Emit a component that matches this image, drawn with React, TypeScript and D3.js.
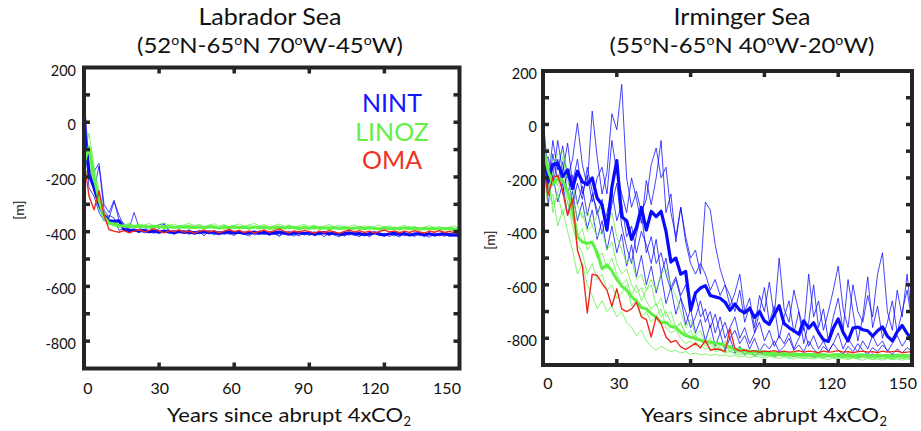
import React from "react";
import * as d3 from "d3";

// ---------- shared ----------
const YEAR_STEP = 2; // values below are given every 2 years, years 0..150
const X_TICKS = [0, 30, 60, 90, 120, 150];
const Y_LABELS = [200, 0, -200, -400, -600, -800];
const Y_TICKS = [100, 0, -100, -200, -300, -400, -500, -600, -700, -800];
const X_INNER_TICKS = [30, 60, 90, 120];
const LEGEND = ["NINT", "LINOZ", "OMA"];

const C_NINT = "#0a0aff";
const C_LINOZ = "#5ff044";
const C_OMA = "#f0281e";
const LEGEND_COLORS = ["#1414ff", "#66ee48", "#ee3322"];

// ---------- Labrador Sea ----------
const labNintMean = [
  5, -190, -240, -300, -340, -360, -362, -360, -392, -396,
  -394, -398, -395, -400, -398, -402, -397, -401, -404, -399,
  -403, -400, -405, -402, -399, -404, -401, -406, -403, -400,
  -405, -402, -407, -404, -401, -406, -403, -408, -404, -401,
  -406, -409, -405, -402, -407, -404, -409, -406, -403, -408,
  -405, -410, -407, -404, -409, -406, -411, -407, -404, -409,
  -412, -408, -405, -410, -407, -412, -409, -406, -411, -408,
  -412, -409, -406, -411, -413, -410,
];
const labNint1 = [
  100, -150, -250, -160, -320, -350, -290, -340, -380, -390,
  -330, -385, -395, -380, -400, -390, -372, -395, -410, -398,
  -405, -392, -410, -400, -415, -396, -405, -412, -398, -406,
  -414, -400, -409, -416, -402, -410, -398, -414, -405, -418,
  -402, -410, -416, -404, -412, -400, -415, -407, -418, -404,
  -412, -419, -405, -413, -402, -416, -408, -419, -405, -414,
  -406, -418, -409, -402, -415, -408, -418, -405, -413, -420,
  -407, -415, -409, -418, -411, -420,
];
const labNint2 = [
  -50, -210, -180, -150, -300, -330, -285, -360, -370, -395,
  -400, -392, -405, -398, -386, -375, -370, -400, -395, -405,
  -398, -410, -402, -396, -408, -401, -412, -404, -398, -410,
  -403, -396, -408, -400, -412, -405, -410, -398, -406, -413,
  -404, -398, -409, -415, -403, -410, -400, -412, -405, -415,
  -402, -409, -416, -404, -411, -418, -406, -412, -403, -410,
  -417, -405, -412, -419, -406, -413, -404, -411, -418, -406,
  -414, -408, -416, -405, -413, -418,
];
const labNint3 = [
  -20, -240, -270, -330, -360, -340, -350, -395, -388, -400,
  -396, -404, -392, -399, -406, -398, -403, -396, -407, -401,
  -395, -406, -399, -408, -402, -396, -405, -399, -410, -404,
  -398, -407, -401, -410, -404, -398, -408, -402, -411, -405,
  -399, -408, -402, -411, -405, -414, -406, -400, -409, -403,
  -412, -406, -415, -408, -402, -411, -405, -414, -408, -402,
  -412, -406, -415, -409, -403, -412, -406, -415, -409, -403,
  -413, -407, -416, -410, -404, -414,
];
const labLinozMean = [
  -150, -90, -200, -285, -345, -368, -372, -377, -380, -378,
  -382, -379, -381, -383, -380, -384, -381, -383, -385, -382,
  -384, -381, -385, -383, -386, -382, -384, -387, -383, -385,
  -382, -386, -384, -387, -383, -386, -384, -388, -385, -383,
  -387, -384, -386, -389, -385, -387, -384, -388, -386, -389,
  -385, -388, -386, -389, -387, -385, -389, -386, -388, -390,
  -386, -389, -387, -390, -386, -389, -387, -391, -388, -390,
  -387, -391, -388, -390, -392, -389,
];
const labLinoz1 = [
  -120, -40, -160, -250, -330, -360, -370, -365, -375, -370,
  -378, -372, -376, -370, -379, -374, -368, -377, -372, -380,
  -375, -370, -378, -373, -381, -376, -371, -379, -374, -382,
  -377, -372, -380, -375, -370, -379, -374, -382, -377, -372,
  -380, -375, -383, -378, -373, -381, -376, -384, -379, -374,
  -382, -377, -385, -380, -375, -383, -378, -386, -381, -376,
  -384, -379, -387, -382, -377, -385, -380, -388, -383, -378,
  -386, -381, -389, -384, -379, -387,
];
const labLinoz2 = [
  -180, -110, -250, -300, -350, -372, -380, -385, -378, -386,
  -381, -388, -383, -379, -387, -382, -389, -384, -380, -388,
  -383, -390, -385, -381, -389, -384, -378, -386, -391, -385,
  -380, -388, -383, -390, -386, -381, -389, -384, -391, -386,
  -382, -390, -385, -380, -388, -392, -386, -381, -389, -384,
  -391, -386, -382, -390, -385, -392, -387, -383, -391, -386,
  -393, -388, -384, -391, -386, -393, -389, -385, -392, -387,
  -394, -389, -385, -392, -388, -394,
];
const labLinoz3 = [
  -200, -160, -230, -320, -360, -375, -366, -374, -380, -372,
  -379, -385, -376, -382, -388, -378, -384, -375, -381, -387,
  -377, -383, -389, -379, -385, -376, -382, -388, -378, -384,
  -390, -380, -386, -377, -383, -389, -379, -385, -391, -381,
  -387, -378, -384, -390, -380, -386, -392, -382, -388, -379,
  -385, -391, -381, -387, -393, -383, -389, -380, -386, -392,
  -382, -388, -394, -384, -390, -381, -387, -393, -383, -389,
  -395, -385, -391, -382, -388, -394,
];
const labOma = [
  -140, -270, -320, -250, -340, -392, -398, -402, -396, -404,
  -398, -393, -401, -395, -390, -398, -404, -396, -400, -393,
  -402, -397, -405, -399, -394, -401, -396, -404, -398, -392,
  -400, -395, -403, -397, -405, -399, -394, -402, -396, -390,
  -399, -404, -397, -402, -395, -400, -405, -398, -403, -396,
  -401, -406, -399, -394, -401, -396, -403, -398, -405, -399,
  -394, -401, -397, -404, -398, -403, -396, -401, -405, -398,
  -402, -396, -403, -399, -404, -400,
];

// ---------- Irminger Sea ----------
const irmNintMean = [
  -60, -215, -150, -145, -195, -170, -240, -175, -215, -225,
  -200, -275, -300, -395, -235, -135, -345, -360, -430, -385,
  -310, -395, -325, -345, -325, -400, -515, -500, -560, -550,
  -695, -630, -612, -603, -640, -645, -650, -665, -695, -672,
  -695, -705, -688, -722, -700, -735, -748, -712, -678, -745,
  -760, -772, -785, -735, -762, -742, -778, -806, -812, -762,
  -728, -778, -810, -762, -758, -768, -772, -792, -772, -758,
  -792, -810, -776, -752, -782, -802,
];
const irmNint1 = [
  -100, -230, -60, -170, -80, -200, -130, 5, -150, -230,
  50, -120, -260, -180, 40, -20, 150, -200, -310, -250,
  -330, -280, -150, -88, -200, -160, -330, -420, -310, -440,
  -520, -560, -520, -560, -620, -580, -640, -600, -680, -630,
  -560, -700, -650, -760, -640, -700, -590, -720, -500, -690,
  -740, -620, -700, -770, -560, -720, -660, -770, -700, -620,
  -530, -690, -760, -600, -700, -740, -640, -720, -560, -480,
  -700, -770, -620, -720, -560, -740,
];
const irmNint2 = [
  -150, -120, -200, -60, -180, -70, -220, -130, -260, -190,
  -290, -200, -160, -260, -60, -180, -260, -330, -200, -280,
  -370, -210, -300, -200, -60, -330, -260, -440, -310, -420,
  -500, -470, -560, -290, -320, -450, -540, -600, -640, -700,
  -620, -740, -680, -780, -700, -610, -740, -680, -800, -720,
  -660, -780, -700, -820, -740, -600, -760, -690, -810, -720,
  -650, -770, -580, -700, -810, -720, -570, -760, -680, -800,
  -740, -660, -780, -700, -620, -740,
];
const irmNint3 = [
  30, -180, -230, -130, -260, -180, -300, -220, -280, -160,
  -250, -340, -280, -400, -300, -220, -380, -460, -520, -410,
  -330, -480, -420, -520, -480, -560, -620, -580, -650, -700,
  -760, -720, -660, -740, -700, -780, -720, -800, -760, -720,
  -800, -760, -820, -780, -740, -810, -770, -830, -790, -820,
  -780, -840, -800, -760, -830, -790, -840, -810, -850, -820,
  -780, -840, -800, -830, -850, -810, -840, -790, -830, -810,
  -850, -820, -790, -830, -800, -820,
];
const irmNint4 = [
  -80, -300, -190, -290, -220, -340, -250, -360, -290, -390,
  -320, -430, -360, -470, -380, -480, -410, -530, -450, -570,
  -490, -600, -530, -630, -560, -670, -610, -710, -650, -750,
  -690, -780, -730, -810, -750, -830, -780, -845, -800, -855,
  -830, -862, -845, -866, -850, -862, -855, -868, -858, -865,
  -860, -870, -862, -866, -858, -870, -864, -860, -868, -862,
  -870, -864, -858, -866, -870, -862, -866, -858, -868, -864,
  -870, -860, -866, -862, -868, -864,
];
const irmNint5 = [
  -40, -250, -110, -210, -140, -260, -190, -300, -230, -340,
  -260, -320, -410, -330, -250, -360, -300, -420, -380, -480,
  -400, -450, -520, -430, -560, -500, -610, -570, -640, -600,
  -680, -640, -720, -690, -760, -710, -780, -740, -800, -770,
  -820, -790, -840, -800, -850, -820, -840, -810, -850, -830,
  -800, -845, -825, -850, -810, -840, -860, -830, -850, -820,
  -845, -860, -830, -850, -820, -845, -860, -835, -850, -825,
  -845, -860, -840, -855, -835, -850,
];
const irmLinozMean = [
  -75, -170, -225, -200, -210, -250, -320, -420, -440, -445,
  -440, -480, -540, -525, -548, -580, -605, -620, -645, -660,
  -685, -690, -708, -720, -742, -740, -756, -760, -778, -790,
  -796, -800, -808, -812, -815, -818, -820, -825, -832, -842,
  -840, -846, -848, -850, -848, -852, -856, -855, -858, -857,
  -860, -858, -861, -860, -862, -860, -863, -861, -864, -862,
  -861, -864, -862, -865, -863, -862, -864, -866, -863, -865,
  -864, -866, -863, -865, -864, -866,
];
const irmLinoz1 = [
  -120, -90, -150, -110, -100, -180, -230, -300, -350, -320,
  -380, -420, -400, -470, -440, -520, -560, -540, -600, -630,
  -610, -660, -690, -670, -720, -700, -740, -760, -745, -780,
  -800, -790, -810, -820, -812, -830, -825, -840, -835, -850,
  -845, -855, -852, -860, -856, -862, -858, -865, -860, -866,
  -862, -868, -864, -866, -870, -865, -868, -872, -866, -870,
  -868, -872, -866, -870, -874, -868, -872, -870, -874, -868,
  -872, -876, -870, -874, -872, -876,
];
const irmLinoz2 = [
  -200, -260, -180, -230, -120, -210, -280, -350, -330, -400,
  -380, -340, -300, -380, -330, -420, -470, -520, -500, -580,
  -560, -620, -600, -680, -650, -720, -700, -760, -740, -790,
  -770, -810, -800, -830, -820, -845, -835, -850, -845, -858,
  -850, -862, -855, -866, -860, -868, -862, -870, -864, -868,
  -872, -866, -870, -874, -868, -872, -870, -874, -868, -872,
  -876, -870, -874, -872, -876, -870, -874, -878, -872, -876,
  -874, -878, -872, -876, -874, -878,
];
const irmLinoz3 = [
  -160, -300, -260, -380, -320, -400, -470, -560, -520, -600,
  -640, -690, -660, -700, -680, -720, -700, -740, -760, -790,
  -770, -810, -830, -845, -830, -840, -850, -845, -855, -850,
  -860, -855, -862, -858, -865, -860, -866, -862, -868, -864,
  -870, -866, -872, -868, -870, -874, -868, -872, -876, -870,
  -874, -878, -872, -876, -874, -878, -872, -876, -880, -874,
  -878, -876, -880, -874, -878, -882, -876, -880, -878, -882,
  -876, -880, -878, -882, -878, -880,
];
const irmLinoz4 = [
  -100, -220, -300, -260, -340, -290, -380, -450, -480, -560,
  -520, -580, -560, -620, -600, -650, -630, -600, -680, -650,
  -720, -700, -740, -720, -690, -760, -780, -770, -800, -820,
  -810, -830, -825, -840, -835, -850, -845, -855, -850, -858,
  -862, -856, -860, -864, -858, -862, -866, -860, -864, -862,
  -866, -860, -864, -868, -862, -866, -864, -868, -862, -866,
  -870, -864, -868, -866, -870, -864, -868, -866, -870, -864,
  -868, -872, -866, -870, -868, -872,
];
const irmLinoz5 = [
  -250, -150, -330, -250, -200, -290, -350, -420, -390, -470,
  -440, -500, -480, -540, -500, -560, -600, -580, -640, -600,
  -660, -620, -580, -620, -560, -540, -600, -640, -700, -760,
  -730, -790, -770, -820, -800, -840, -830, -810, -850, -840,
  -856, -848, -860, -854, -862, -858, -864, -860, -866, -862,
  -868, -864, -870, -864, -868, -872, -866, -870, -868, -872,
  -866, -870, -874, -868, -872, -870, -874, -868, -872, -876,
  -870, -874, -872, -876, -870, -874,
];
const irmOma = [
  -145, -265, -200, -190, -250, -340, -280, -470, -530, -705,
  -560, -565, -595, -620, -680, -615, -690, -700, -690, -665,
  -720, -730, -795, -720, -745, -795, -815, -808, -832, -842,
  -830, -818, -836, -808, -845, -840, -842, -850, -765, -838,
  -848, -844, -850, -846, -852, -848, -850, -846, -852, -848,
  -852, -850, -846, -852, -848, -850, -854, -848, -852, -850,
  -846, -852, -850, -854, -850, -848, -852, -850, -854, -848,
  -852, -850, -848, -854, -852, -850,
];

type Series = { values: number[]; color: string; width: number; opacity?: number };

const thinN = (v: number[]): Series => ({ values: v, color: C_NINT, width: 0.9, opacity: 0.85 });
const thinL = (v: number[]): Series => ({ values: v, color: C_LINOZ, width: 0.9, opacity: 0.85 });

const labSeries: Series[] = [
  thinN(labNint1), thinN(labNint2), thinN(labNint3),
  thinL(labLinoz1), thinL(labLinoz2), thinL(labLinoz3),
  { values: labNintMean, color: C_NINT, width: 3 },
  { values: labLinozMean, color: C_LINOZ, width: 3 },
  { values: labOma, color: C_OMA, width: 1.4 },
];
const irmSeries: Series[] = [
  thinN(irmNint1), thinN(irmNint2), thinN(irmNint3), thinN(irmNint4), thinN(irmNint5),
  thinL(irmLinoz1), thinL(irmLinoz2), thinL(irmLinoz3), thinL(irmLinoz4), thinL(irmLinoz5),
  { values: irmNintMean, color: C_NINT, width: 3.2 },
  { values: irmLinozMean, color: C_LINOZ, width: 3 },
  { values: irmOma, color: C_OMA, width: 1.4 },
];

const FONT = "Lato, 'Open Sans', 'DejaVu Sans', sans-serif";
const AXIS_COLOR = "#252525";

type PanelProps = {
  id: string;
  x0: number; x1: number; y0: number; y1: number;
  lx0: number; lx1: number; xLabelBase: number; yLabelRight: number;
  title1: string; title2: string[]; titleX: number; t1Len: number; t2Len: number;
  ylabX: number; ylabY: number;
  xlabX: number; xlabLen: number;
  series: Series[];
  legend?: boolean;
};

function Panel(p: PanelProps) {
  const x = d3.scaleLinear().domain([0, 150]).range([p.x0, p.x1]);
  const y = d3.scaleLinear().domain([-900, 200]).range([p.y1, p.y0]);
  const xl = d3.scaleLinear().domain([0, 150]).range([p.lx0, p.lx1]);
  const line = d3
    .line<number>()
    .x((_, i) => x(i * YEAR_STEP))
    .y((d) => y(d));
  const tick = 6;
  return (
    <g>
      <defs>
        <clipPath id={p.id}>
          <rect x={p.x0} y={p.y0} width={p.x1 - p.x0} height={p.y1 - p.y0} />
        </clipPath>
      </defs>
      {/* titles */}
      <text x={p.titleX} y={25} textAnchor="middle" fontSize={23} fontFamily={FONT} fill="#111"
        textLength={p.t1Len} lengthAdjust="spacingAndGlyphs">{p.title1}</text>
      <text x={p.titleX} y={53} textAnchor="middle" fontSize={22} fontFamily={FONT} fill="#111"
        textLength={p.t2Len} lengthAdjust="spacingAndGlyphs">
        {p.title2.map((s, i) =>
          i === 0 ? (
            <tspan key={i}>{s}</tspan>
          ) : (
            <React.Fragment key={i}>
              <tspan fontSize={13} dy={-8}>o</tspan>
              <tspan dy={8}>{s}</tspan>
            </React.Fragment>
          )
        )}
      </text>
      {/* data */}
      <g clipPath={`url(#${p.id})`}>
        {p.series.map((s, i) => (
          <path key={i} d={line(s.values) || ""} fill="none" stroke={s.color}
            strokeWidth={s.width} strokeOpacity={s.opacity ?? 1} strokeLinejoin="round" />
        ))}
      </g>
      {/* frame */}
      <rect x={p.x0} y={p.y0} width={p.x1 - p.x0} height={p.y1 - p.y0} fill="none"
        stroke={AXIS_COLOR} strokeWidth={4} />
      {Y_TICKS.map((t) => (
        <g key={"yt" + t}>
          <line x1={p.x0} x2={p.x0 + tick} y1={y(t)} y2={y(t)} stroke={AXIS_COLOR} strokeWidth={3.5} />
          <line x1={p.x1} x2={p.x1 - tick} y1={y(t)} y2={y(t)} stroke={AXIS_COLOR} strokeWidth={3.5} />
        </g>
      ))}
      {X_INNER_TICKS.map((t) => (
        <g key={"xt" + t}>
          <line x1={x(t)} x2={x(t)} y1={p.y0} y2={p.y0 + tick} stroke={AXIS_COLOR} strokeWidth={3.5} />
          <line x1={x(t)} x2={x(t)} y1={p.y1} y2={p.y1 - tick} stroke={AXIS_COLOR} strokeWidth={3.5} />
        </g>
      ))}
      {Y_LABELS.map((t) => (
        <text key={"yl" + t} x={p.yLabelRight} y={y(t) + 8} textAnchor="end" fontSize={14.5}
          fontFamily={FONT} fill="#111">{t}</text>
      ))}
      {X_TICKS.map((t) => (
        <text key={"xl" + t} x={xl(t)} y={p.xLabelBase} textAnchor="middle" fontSize={16}
          fontFamily={FONT} fill="#111">{t}</text>
      ))}
      <text transform={`translate(${p.ylabX},${p.ylabY}) rotate(-90)`} textAnchor="middle"
        fontSize={14} fontFamily={FONT} fill="#111" dy={5}>[m]</text>
      <text x={p.xlabX} y={422} fontSize={20} fontFamily={FONT} fill="#111"
        textLength={p.xlabLen} lengthAdjust="spacingAndGlyphs">Years since abrupt 4xCO</text>
      <text x={p.xlabX + p.xlabLen + 0.5} y={426} fontSize={13} fontFamily={FONT} fill="#111">2</text>
      {p.legend &&
        LEGEND.map((s, i) => (
          <text key={s} x={392} y={112 + i * 28.5} textAnchor="middle" fontSize={25}
            fontFamily={FONT} fill={LEGEND_COLORS[i]}>{s}</text>
        ))}
    </g>
  );
}

export default function App() {
  return (
    <svg width={921} height={431} style={{ position: "absolute", left: 0, top: 0, background: "#fff" }}>
      <rect width={921} height={431} fill="#fff" />
      <Panel id="clipLab" x0={84} x1={459.5} y0={67.5} y1={368.5} lx0={88} lx1={447}
        xLabelBase={394} yLabelRight={76}
        title1="Labrador Sea" title2={["(52", "N-65", "N 70", "W-45", "W)"]} titleX={270}
        t1Len={143} t2Len={266} ylabX={19} ylabY={210} xlabX={167} xlabLen={236}
        series={labSeries} legend />
      <Panel id="clipIrm" x0={543} x1={912} y0={71} y1={365} lx0={548} lx1={903}
        xLabelBase={389} yLabelRight={537}
        title1="Irminger Sea" title2={["(55", "N-65", "N 40", "W-20", "W)"]} titleX={742}
        t1Len={137} t2Len={265} ylabX={490} ylabY={240} xlabX={641} xlabLen={238}
        series={irmSeries} />
    </svg>
  );
}
